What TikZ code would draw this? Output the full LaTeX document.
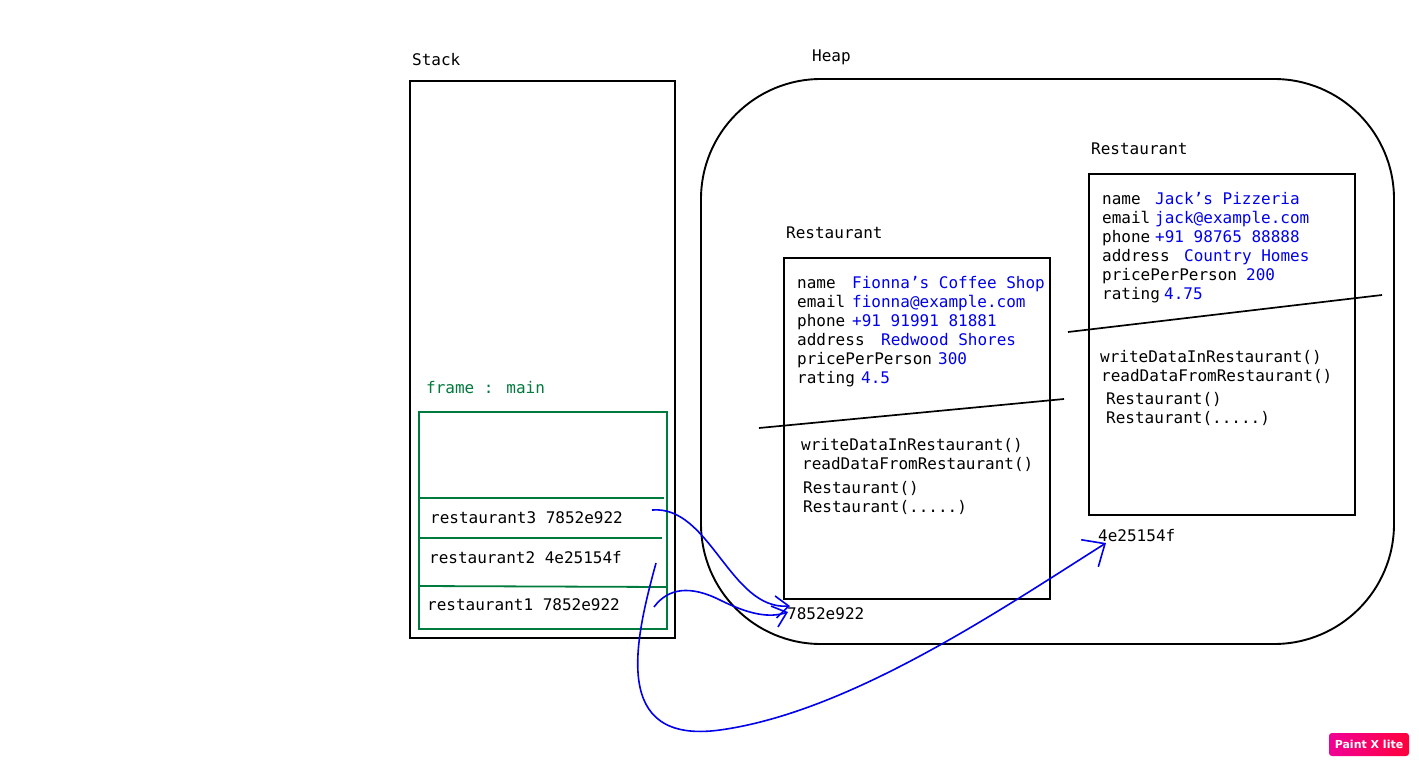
\documentclass[tikz,border=0pt]{standalone}
\usepackage{fontspec}
\setmainfont{DejaVu Sans Mono}
\newfontfamily\badgefont{DejaVu Sans}
\usetikzlibrary{arrows.meta}
\definecolor{codeblue}{RGB}{0,0,235}
\definecolor{framegreen}{RGB}{0,122,61}
\definecolor{badgeleft}{RGB}{240,0,150}
\definecolor{badgeright}{RGB}{255,0,60}
\begin{document}
\begin{tikzpicture}[x=1pt,y=-1pt,
  txt/.style={anchor=base west, inner sep=0pt, font=\fontsize{16}{19}\selectfont},
  val/.style={txt, text=codeblue},
  box/.style={draw=black, line width=2pt, anchor=north west, inner sep=0pt},
  gline/.style={draw=framegreen, line width=1.8pt},
  divider/.style={draw=black, line width=1.7pt},
  ptr/.style={draw=codeblue, line width=1.6pt, -{Straight Barb[length=13pt,width=22pt,line width=1.6pt]}},
  bigptr/.style={draw=codeblue, line width=1.6pt, -{Straight Barb[length=18pt,width=32pt,line width=1.6pt]}}
]
\useasboundingbox (0,0) rectangle (1419,766);
\fill[white] (0,0) rectangle (1419,766);

% Heap
\draw[line width=1.9pt, rounded corners=120pt] (701,79) rectangle (1394,644);
\node[txt] (heaplbl) at (812,61) {Heap};

% Stack
\node[box, minimum width=265pt, minimum height=557pt] (stack) at (409,80) {};
\node[txt] (stacklbl) at (412,65) {Stack};
\node[txt, text=framegreen] (framelbl) at (426,393) {frame : main};
\node[draw=framegreen, line width=1.9pt, anchor=north west, inner sep=0pt, minimum width=248pt, minimum height=217pt] (frame) at (418,411) {};
\coordinate (g1a) at (420,498); \coordinate (g1b) at (664,498);
\coordinate (g2a) at (420,538); \coordinate (g2b) at (662,538);
\coordinate (g3a) at (420,586); \coordinate (g3b) at (666,587);
\draw[gline] (g1a) -- (g1b);
\draw[gline] (g2a) -- (g2b);
\draw[gline] (g3a) -- (g3b);
\node[txt] (r3) at (430,523) {restaurant3 7852e922};
\node[txt] (r2) at (429,563) {restaurant2 4e25154f};
\node[txt] (r1) at (427,610) {restaurant1 7852e922};

% Restaurant object 1
\node[txt] (lblA) at (786,238) {Restaurant};
\node[box, minimum width=266pt, minimum height=341pt] (objA) at (783,257) {};
\node[txt] (nA) at (797,288) {name};
\node[val] (nAv) at (852,288) {Fionna’s Coffee Shop};
\node[txt] (eA) at (797,307) {email};
\node[val] (eAv) at (852,307) {fionna@example.com};
\node[txt] (pA) at (797,326) {phone};
\node[val] (pAv) at (852,326) {+91 91991 81881};
\node[txt] (aA) at (797,345) {address};
\node[val] (aAv) at (881,345) {Redwood Shores};
\node[txt] (ppA) at (797,364) {pricePerPerson};
\node[val] (ppAv) at (938,364) {300};
\node[txt] (rtA) at (797,383) {rating};
\node[val] (rtAv) at (861,383) {4.5};
\coordinate (dA1) at (759,428); \coordinate (dA2) at (1064,399);
\draw[divider] (dA1) -- (dA2);
\node[txt] (m1A) at (801,450) {writeDataInRestaurant()};
\node[txt] (m2A) at (802,469) {readDataFromRestaurant()};
\node[txt] (m3A) at (803,493) {Restaurant()};
\node[txt] (m4A) at (803,512) {Restaurant(.....)};
\node[txt] (addrA) at (787,619) {7852e922};

% Restaurant object 2
\node[txt] (lblB) at (1091,154) {Restaurant};
\node[box, minimum width=266pt, minimum height=341pt] (objB) at (1088,173) {};
\node[txt] (nB) at (1102,204) {name};
\node[val] (nBv) at (1155,204) {Jack’s Pizzeria};
\node[txt] (eB) at (1102,223) {email};
\node[val] (eBv) at (1155,223) {jack@example.com};
\node[txt] (pB) at (1102,242) {phone};
\node[val] (pBv) at (1155,242) {+91 98765 88888};
\node[txt] (aB) at (1102,261) {address};
\node[val] (aBv) at (1184,261) {Country Homes};
\node[txt] (ppB) at (1102,280) {pricePerPerson};
\node[val] (ppBv) at (1246,280) {200};
\node[txt] (rtB) at (1102,299) {rating};
\node[val] (rtBv) at (1164,299) {4.75};
\coordinate (dB1) at (1068,332); \coordinate (dB2) at (1382,295);
\draw[divider] (dB1) -- (dB2);
\node[txt] (m1B) at (1100,362) {writeDataInRestaurant()};
\node[txt] (m2B) at (1101,381) {readDataFromRestaurant()};
\node[txt] (m3B) at (1106,404) {Restaurant()};
\node[txt] (m4B) at (1106,423) {Restaurant(.....)};
\node[txt] (addrB) at (1098,541) {4e25154f};

% Pointers
\coordinate (s3) at (652,510);
\coordinate (s2) at (656,563);
\coordinate (s1) at (654,607);
\coordinate (tA1) at (790,606);
\coordinate (tA2) at (788,612);
\coordinate (tB) at (1106,543);
\draw[ptr] (s3) .. controls (710,505) and (730,610) .. (tA1);
\draw[ptr] (s1) .. controls (668,588) and (690,585) .. (720,600) .. controls (750,615) and (770,618) .. (tA2);
\draw[bigptr] (s2) .. controls (635,640) and (610,745) .. (720,730) .. controls (850,712) and (1000,610) .. (tB);

% Badge
\node[rounded corners=3pt, left color=badgeleft, right color=badgeright, minimum width=80pt, minimum height=23pt, inner sep=0pt, text=white, font=\badgefont\bfseries\fontsize{11}{11}\selectfont] (badge) at (1369,744.5) {Paint X lite};
\end{tikzpicture}
\end{document}
